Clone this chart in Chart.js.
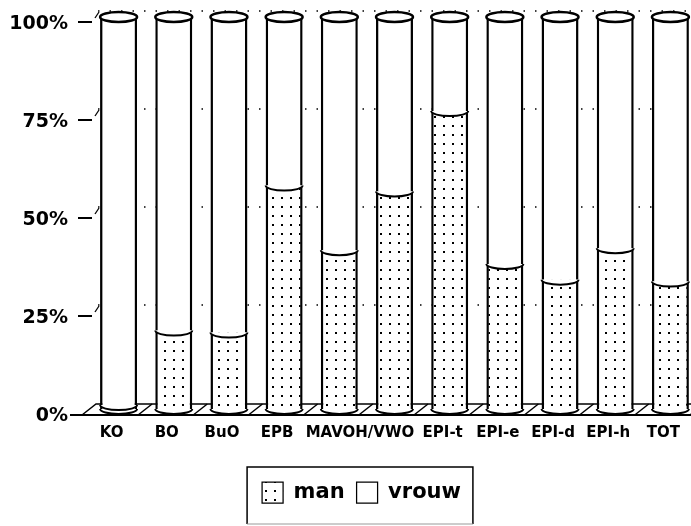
<!DOCTYPE html>
<html>
<head>
<meta charset="utf-8">
<script src="https://cdn.jsdelivr.net/npm/chart.js@4/dist/chart.umd.min.js"></script>
<style>
  html, body { margin: 0; padding: 0; background: #fff; }
  #wrap { width: 691px; height: 526px; }
</style>
</head>
<body>
<div id="wrap"><canvas id="chart"></canvas></div>
<script>
// labels under the cylinders (one label spans the 5th and 6th cylinder)
const categories = ['KO', 'BO', 'BuO', 'EPB', 'MAVOH/VWO', '', 'EPI-t', 'EPI-e', 'EPI-d', 'EPI-h', 'TOT'];
const seriesNames = ['man', 'vrouw'];
const manValues = [1, 20, 19.5, 57, 40.5, 55.5, 76, 37, 33, 41, 32.5];
const vrouwValues = [99, 80, 80.5, 43, 59.5, 44.5, 24, 63, 67, 59, 67.5];
const yTicks = [0, 25, 50, 75, 100];

// 3D look: floor depth and how far the cylinders stand into it
const DEPTH_X = 14, DEPTH_Y = 11;
const SHIFT_X = 7, SHIFT_Y = -5;
const RY = 5;

const canvas = document.getElementById('chart');
const ctx = canvas.getContext('2d');

// dotted fill for "man"
const makeDots = () => {
  const c = document.createElement('canvas');
  c.width = 9; c.height = 9;
  const g = c.getContext('2d');
  g.fillStyle = '#fff';
  g.fillRect(0, 0, 9, 9);
  g.fillStyle = '#000';
  g.fillRect(4, 4, 2, 2);
  return ctx.createPattern(c, 'repeat');
};
const dots = makeDots();

const halfEllipse = (c, x, y, rx, fill) => {
  c.beginPath();
  c.ellipse(x, y, rx, RY, 0, 0, Math.PI);
  c.closePath();
  c.fillStyle = fill;
  c.fill();
  c.beginPath();
  c.ellipse(x, y, rx, RY, 0, 0, Math.PI);
  c.stroke();
};

const cylinders = {
  id: 'cylinders',
  beforeDraw(chart) {
    const c = chart.ctx;
    c.save();
    c.fillStyle = '#fff';
    c.fillRect(0, 0, chart.width, chart.height);
    c.restore();
  },
  beforeDatasetsDraw(chart) {
    const {ctx: c, chartArea, scales: {y}} = chart;
    const y0 = y.getPixelForValue(0);
    c.save();
    c.strokeStyle = '#000';

    // tick marks + dotted lines on the back wall
    yTicks.forEach(v => {
      if (v === 0) return;
      const py = y.getPixelForValue(v);
      c.setLineDash([]);
      c.lineWidth = 2;
      c.beginPath();
      c.moveTo(chartArea.left - 6, py);
      c.lineTo(chartArea.left + 8, py);
      c.stroke();
      c.lineWidth = 1.3;
      c.beginPath();
      c.moveTo(chartArea.left + 11, py - 4);
      c.lineTo(chartArea.left + 15, py - 10);
      c.stroke();
      c.lineWidth = 1.5;
      c.setLineDash([1.5, 10]);
      c.beginPath();
      c.moveTo(chartArea.left + DEPTH_X, py - DEPTH_Y);
      c.lineTo(chartArea.right, py - DEPTH_Y);
      c.stroke();
    });

    // floor
    c.setLineDash([]);
    const fy = y0 + 1;
    c.lineWidth = 2;
    c.beginPath();
    c.moveTo(chartArea.left - 14, fy);
    c.lineTo(chartArea.right, fy);
    c.stroke();
    c.lineWidth = 1.5;
    c.beginPath();
    c.moveTo(chartArea.left - 2, fy);
    c.lineTo(chartArea.left - 2 + DEPTH_X, fy - DEPTH_Y);
    c.lineTo(chartArea.right, fy - DEPTH_Y);
    c.stroke();
    chart.getDatasetMeta(0).data.forEach(bar => {
      const xr = bar.x + SHIFT_X + bar.width / 2 + 1;
      c.beginPath();
      c.moveTo(xr, fy);
      c.lineTo(xr + DEPTH_X, fy - DEPTH_Y);
      c.stroke();
    });
    c.restore();

    c.save();
    c.translate(SHIFT_X, SHIFT_Y);
  },
  afterDatasetsDraw(chart) {
    const c = chart.ctx;
    const man = chart.getDatasetMeta(0).data;
    const vrouw = chart.getDatasetMeta(1).data;
    c.strokeStyle = '#000';
    c.lineWidth = 2;
    man.forEach((bar, i) => {
      const rx = bar.width / 2;
      halfEllipse(c, bar.x, bar.base, rx, dots);
      halfEllipse(c, bar.x, bar.y, rx, '#fff');
      const top = vrouw[i];
      c.beginPath();
      c.ellipse(top.x, top.y, rx, RY, 0, 0, Math.PI * 2);
      c.fillStyle = '#fff';
      c.fill();
      c.lineWidth = 2.5;
      c.stroke();
      c.lineWidth = 2;
    });
    c.restore();
  },
  afterDraw(chart) {
    const {ctx: c, chartArea, scales: {x, y}} = chart;
    const y0 = y.getPixelForValue(0);
    c.save();
    c.fillStyle = '#000';

    // value axis labels
    c.font = 'bold 19px "DejaVu Sans"';
    c.textAlign = 'right';
    c.textBaseline = 'middle';
    yTicks.forEach(v => {
      c.fillText(v + '%', chartArea.left - 16, y.getPixelForValue(v) + 2);
    });

    // category labels
    c.font = 'bold 15px "DejaVu Sans"';
    c.textAlign = 'center';
    c.textBaseline = 'alphabetic';
    categories.forEach((lab, i) => {
      if (!lab) return;
      let px = x.getPixelForValue(i);
      if (categories[i + 1] === '') px = (px + x.getPixelForValue(i + 1)) / 2;
      c.fillText(lab, px, y0 + 23);
    });

    // frame round the legend
    const hb = chart.legend.legendHitBoxes;
    if (hb && hb.length) {
      const first = hb[0], last = hb[hb.length - 1];
      const l = first.left - 15, r = last.left + last.width + 12;
      const t = first.top - 15, b = first.top + first.height + 21;
      c.lineWidth = 1.5;
      c.strokeStyle = '#000';
      c.beginPath();
      c.moveTo(l, b);
      c.lineTo(l, t);
      c.lineTo(r, t);
      c.lineTo(r, b);
      c.stroke();
      c.strokeStyle = '#999';
      c.lineWidth = 1;
      c.beginPath();
      c.moveTo(l, b);
      c.lineTo(r, b);
      c.stroke();
    }
    c.restore();
  }
};

const barStyle = {
  borderColor: '#000',
  borderWidth: {left: 2.5, right: 2.5, top: 0, bottom: 0},
  borderSkipped: false,
  barPercentage: 0.67,
  categoryPercentage: 1,
  clip: false
};

new Chart(ctx, {
  type: 'bar',
  data: {
    labels: categories,
    datasets: [
      {label: seriesNames[0], data: manValues, backgroundColor: dots, ...barStyle},
      {label: seriesNames[1], data: vrouwValues, backgroundColor: '#fff', ...barStyle}
    ]
  },
  options: {
    responsive: true,
    maintainAspectRatio: false,
    animation: false,
    layout: {padding: {top: 22, left: 32, right: 0, bottom: 13}},
    scales: {
      x: {
        stacked: true,
        grid: {display: false},
        border: {display: false},
        ticks: {display: false},
        afterFit: (scale) => { scale.height = 56; }
      },
      y: {
        stacked: true,
        min: 0,
        max: 100,
        grid: {display: false, drawTicks: false},
        border: {display: false},
        ticks: {display: false, stepSize: 25},
        afterFit: (scale) => { scale.width = 52; }
      }
    },
    plugins: {
      legend: {
        position: 'bottom',
        labels: {
          boxWidth: 21,
          boxHeight: 21,
          padding: 12,
          color: '#000',
          font: {family: 'DejaVu Sans', weight: 'bold', size: 21}
        }
      },
      tooltip: {enabled: false}
    }
  },
  plugins: [cylinders]
});
</script>
</body>
</html>
